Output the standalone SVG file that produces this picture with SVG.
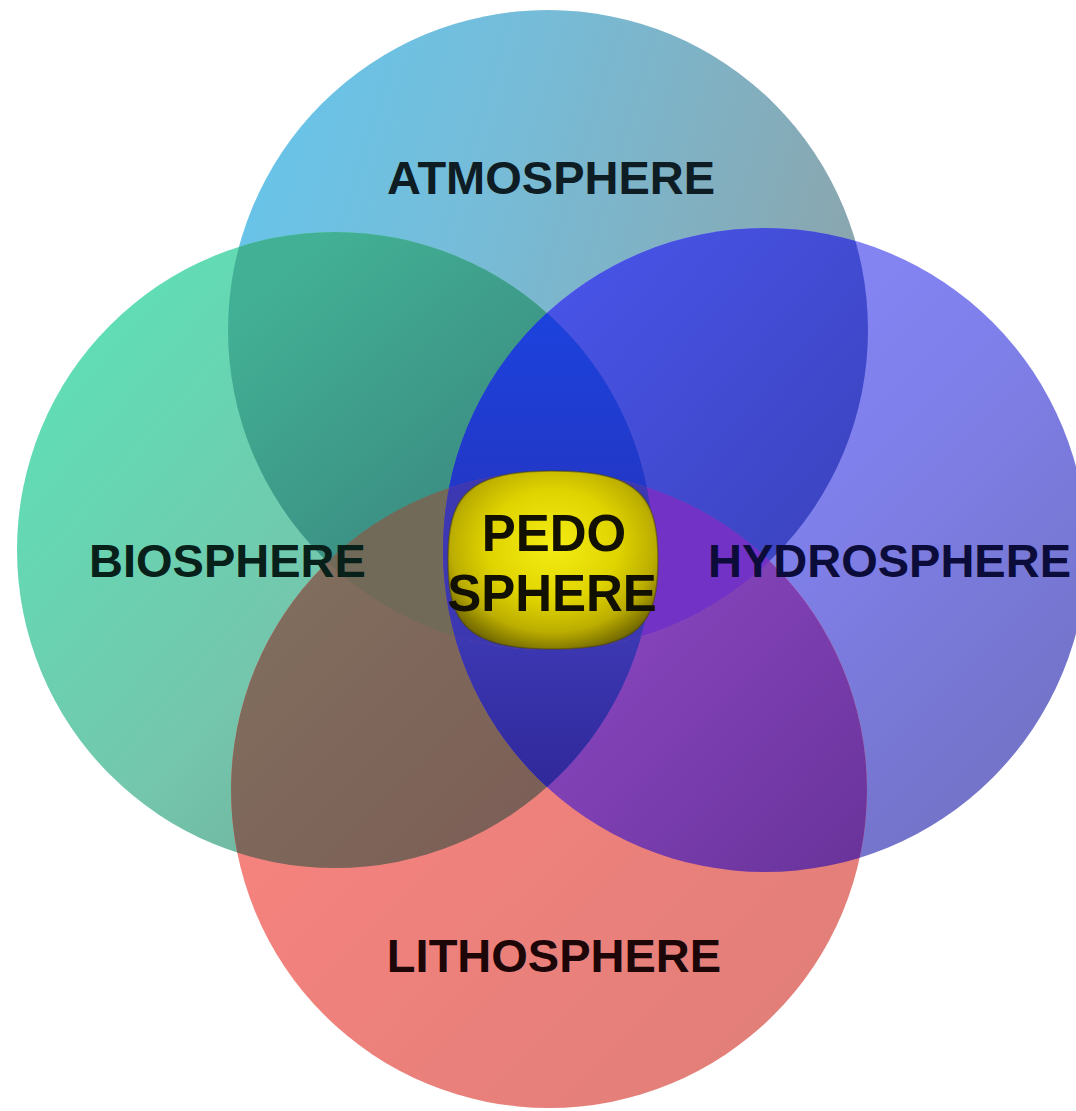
<svg xmlns="http://www.w3.org/2000/svg" xmlns:xlink="http://www.w3.org/1999/xlink" width="1076" height="1111" viewBox="0 0 1076 1111">
  <style>
    .lbl { font-family: "Liberation Sans", Arial, sans-serif; font-weight: bold; font-size: 47px; }
    .pedo { font-family: "Liberation Sans", Arial, sans-serif; font-weight: bold; font-size: 51px; fill: #121000; text-anchor: middle; }
  </style>
  <defs>
    <clipPath id="cA"><circle cx="548" cy="330" r="320"/></clipPath>
    <clipPath id="cB"><circle cx="335" cy="550" r="318"/></clipPath>
    <clipPath id="cH"><circle cx="765" cy="550" r="322"/></clipPath>
    <clipPath id="cL"><circle cx="549" cy="790" r="318"/></clipPath>

    <linearGradient id="gA" x1="0" y1="0" x2="1" y2="0.3">
      <stop offset="0" stop-color="#64c6ee"/>
      <stop offset="0.45" stop-color="#76bcd8"/>
      <stop offset="1" stop-color="#8aa6ae"/>
    </linearGradient>
    <linearGradient id="gB" x1="0" y1="0.2" x2="0.9" y2="1">
      <stop offset="0" stop-color="#5ee0b6"/>
      <stop offset="0.5" stop-color="#74c6ac"/>
      <stop offset="1" stop-color="#6a9c8e"/>
    </linearGradient>
    <linearGradient id="gH" x1="0.1" y1="0" x2="1" y2="0.9">
      <stop offset="0" stop-color="#8a8aff"/>
      <stop offset="0.5" stop-color="#8080ec"/>
      <stop offset="1" stop-color="#7070c0"/>
    </linearGradient>
    <linearGradient id="gL" x1="0" y1="0" x2="1" y2="1">
      <stop offset="0" stop-color="#ff8480"/>
      <stop offset="1" stop-color="#de7e78"/>
    </linearGradient>

    <linearGradient id="gAB" gradientUnits="userSpaceOnUse" x1="300" y1="260" x2="520" y2="520">
      <stop offset="0" stop-color="#42b094"/>
      <stop offset="1" stop-color="#3a8880"/>
    </linearGradient>
    <linearGradient id="gAH" gradientUnits="userSpaceOnUse" x1="560" y1="260" x2="850" y2="520">
      <stop offset="0" stop-color="#4854e8"/>
      <stop offset="1" stop-color="#3c44c0"/>
    </linearGradient>
    <linearGradient id="gBL" gradientUnits="userSpaceOnUse" x1="260" y1="600" x2="520" y2="860">
      <stop offset="0" stop-color="#806e5e"/>
      <stop offset="1" stop-color="#7c5e56"/>
    </linearGradient>
    <linearGradient id="gHL" gradientUnits="userSpaceOnUse" x1="580" y1="600" x2="850" y2="860">
      <stop offset="0" stop-color="#8a46c0"/>
      <stop offset="1" stop-color="#6a349c"/>
    </linearGradient>
    <linearGradient id="gABH" gradientUnits="userSpaceOnUse" x1="0" y1="320" x2="0" y2="480">
      <stop offset="0" stop-color="#1c42dc"/>
      <stop offset="1" stop-color="#2238c8"/>
    </linearGradient>
    <linearGradient id="gBHL" gradientUnits="userSpaceOnUse" x1="0" y1="640" x2="0" y2="790">
      <stop offset="0" stop-color="#3c38b2"/>
      <stop offset="1" stop-color="#30289a"/>
    </linearGradient>

    <radialGradient id="gP" cx="0.5" cy="0.42" r="0.62">
      <stop offset="0" stop-color="#f4ec14"/>
      <stop offset="0.5" stop-color="#e0d400"/>
      <stop offset="0.78" stop-color="#bcae00"/>
      <stop offset="1" stop-color="#6e6400"/>
    </radialGradient>
  </defs>

  <rect width="1076" height="1111" fill="#ffffff"/>

  <g id="venn-regions">
    <circle id="shape-atmosphere" cx="548" cy="330" r="320" fill="url(#gA)"/>
    <circle id="shape-biosphere" cx="335" cy="550" r="318" fill="url(#gB)"/>
    <circle id="shape-hydrosphere" cx="765" cy="550" r="322" fill="url(#gH)"/>
    <circle id="shape-lithosphere" cx="549" cy="790" r="318" fill="url(#gL)"/>

    <g id="overlaps">
      <g clip-path="url(#cA)"><circle cx="335" cy="550" r="318" fill="url(#gAB)"/></g>
      <g clip-path="url(#cA)"><circle cx="765" cy="550" r="322" fill="url(#gAH)"/></g>
      <g clip-path="url(#cL)"><circle cx="335" cy="550" r="318" fill="url(#gBL)"/></g>
      <g clip-path="url(#cL)"><circle cx="765" cy="550" r="322" fill="url(#gHL)"/></g>
      <g clip-path="url(#cB)"><circle cx="765" cy="550" r="322" fill="#2a3cc8"/></g>

      <g clip-path="url(#cA)"><g clip-path="url(#cB)"><circle cx="765" cy="550" r="322" fill="url(#gABH)"/></g></g>
      <g clip-path="url(#cL)"><g clip-path="url(#cB)"><circle cx="765" cy="550" r="322" fill="url(#gBHL)"/></g></g>
      <g clip-path="url(#cA)"><g clip-path="url(#cL)"><circle cx="335" cy="550" r="318" fill="#726a58"/></g></g>
      <g clip-path="url(#cA)"><g clip-path="url(#cL)"><circle cx="765" cy="550" r="322" fill="#7232c6"/></g></g>
      <g clip-path="url(#cA)"><g clip-path="url(#cL)"><g clip-path="url(#cB)"><circle cx="765" cy="550" r="322" fill="#3c38b2"/></g></g></g>
    </g>
  </g>

  <g id="atmosphere">
    <text class="lbl" x="551" y="194" text-anchor="middle" fill="#0e1c24">ATMOSPHERE</text>
  </g>
  <g id="biosphere">
    <text class="lbl" x="89" y="577" fill="#08201a">BIOSPHERE</text>
  </g>
  <g id="hydrosphere">
    <text class="lbl" x="708" y="577" fill="#0c0c3a">HYDROSPHERE</text>
  </g>
  <g id="lithosphere">
    <text class="lbl" x="554" y="972" text-anchor="middle" fill="#1c0608">LITHOSPHERE</text>
  </g>

  <g id="pedosphere">
    <path d="M553,471 C640,471 658,497 658,560 C658,623 640,649 553,649 C466,649 448,623 448,560 C448,497 466,471 553,471 Z" fill="url(#gP)" stroke="#4a4400" stroke-opacity="0.5" stroke-width="1.5"/>
    <text class="pedo" x="554" y="551">PEDO</text>
    <text class="pedo" x="552" y="611">SPHERE</text>
  </g>
</svg>
